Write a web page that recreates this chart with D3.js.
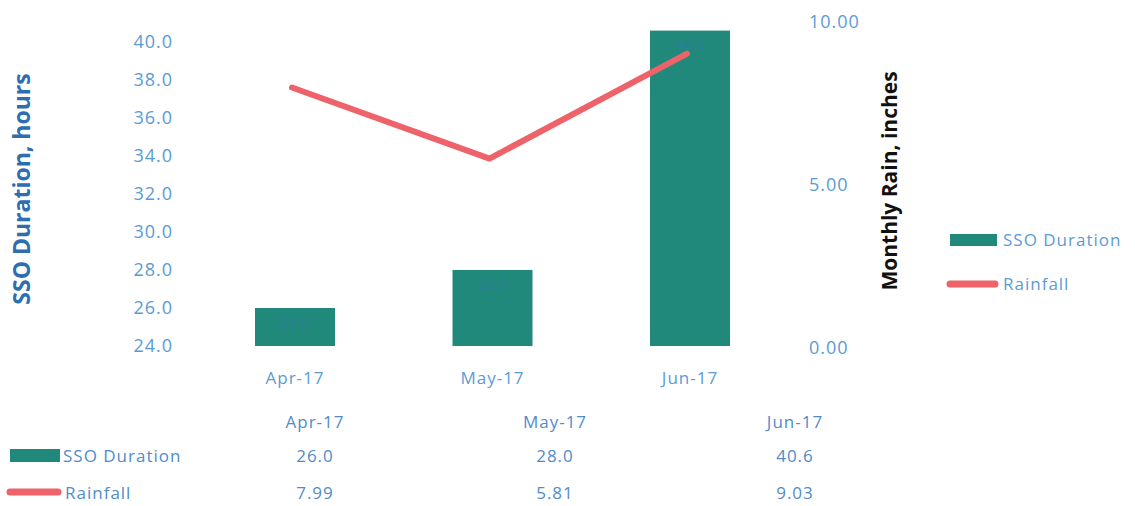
<!DOCTYPE html>
<html><head><meta charset="utf-8">
<script src="https://cdn.jsdelivr.net/npm/d3@7"></script>
<style>
html,body{margin:0;padding:0;background:#fff;}
svg{display:block;font-family:"Open Sans",sans-serif;}
</style></head>
<body>
<svg id="c" width="1135" height="506"></svg>
<script>
const categories = ["Apr-17", "May-17", "Jun-17"];
const ssoDuration = [26.0, 28.0, 40.6];
const rainfall = [7.99, 5.81, 9.03];
const leftTicks = [24, 26, 28, 30, 32, 34, 36, 38, 40];
const rightTicks = [0, 5, 10];
const seriesNames = ["SSO Duration", "Rainfall"];

const barColor = "#20897b";
const lineColor = "#ee626a";
const tickColor = "#5b9bd5";
const tableColor = "#4f8cca";

const svg = d3.select("#c");

const x = d3.scaleBand().domain(categories).range([195.75, 789.25])
  .paddingInner(0.595).paddingOuter(0.3);
const yL = d3.scaleLinear().domain([24, 40]).range([346, 42]);
const yR = d3.scaleLinear().domain([0, 10]).range([348, 22]);

// bars
svg.append("g").selectAll("rect").data(categories).join("rect")
  .attr("x", d => x(d)).attr("width", x.bandwidth())
  .attr("y", (d, i) => yL(ssoDuration[i]))
  .attr("height", (d, i) => yL(24) - yL(ssoDuration[i]))
  .attr("fill", barColor);

// faint data labels inside bars
svg.append("g").selectAll("text").data(categories).join("text")
  .attr("x", d => x(d) + x.bandwidth() / 2)
  .attr("y", (d, i) => yL(ssoDuration[i]) + 19)
  .attr("text-anchor", "middle")
  .attr("font-size", 15).attr("fill", "#3a78b5").attr("opacity", 0.45)
  .text((d, i) => ssoDuration[i].toFixed(1));

// line
const line = d3.line().x((d, i) => x(categories[i]) + x.bandwidth() / 2 - 3).y(d => yR(d));
svg.append("path").datum(rainfall).attr("d", line)
  .attr("fill", "none").attr("stroke", lineColor).attr("stroke-width", 6)
  .attr("stroke-linecap", "round").attr("stroke-linejoin", "round");

// left axis
const gL = svg.append("g").attr("transform", "translate(176,0)")
  .call(d3.axisLeft(yL).tickValues(leftTicks).tickFormat(d3.format(".1f")).tickSize(0).tickPadding(3));
gL.select(".domain").remove();
gL.selectAll("text").attr("fill", tickColor).attr("font-size", 18)
  .attr("font-family", "Open Sans").attr("letter-spacing", "1px");

// right axis
const gR = svg.append("g").attr("transform", "translate(806,0)")
  .call(d3.axisRight(yR).tickValues(rightTicks).tickFormat(d3.format(".2f")).tickSize(0).tickPadding(3));
gR.select(".domain").remove();
gR.selectAll("text").attr("fill", tickColor).attr("font-size", 18)
  .attr("font-family", "Open Sans").attr("letter-spacing", "1px");

// bottom axis
const gB = svg.append("g").attr("transform", "translate(0,369)")
  .call(d3.axisBottom(x).tickSize(0).tickPadding(3));
gB.select(".domain").remove();
gB.selectAll("text").attr("fill", tickColor).attr("font-size", 17)
  .attr("font-family", "Open Sans").attr("letter-spacing", "1px");

// axis titles
svg.append("text").attr("transform", "translate(30,189) rotate(-90)")
  .attr("text-anchor", "middle").attr("font-size", 23).attr("font-weight", "bold")
  .attr("fill", "#2e6db0").text("SSO Duration, hours");
svg.append("text").attr("transform", "translate(897,181) rotate(-90)")
  .attr("text-anchor", "middle").attr("font-size", 21).attr("font-weight", "bold")
  .attr("fill", "#111").text("Monthly Rain, inches");

// legend
const lg = svg.append("g");
lg.append("rect").attr("x", 950).attr("y", 234).attr("width", 47).attr("height", 12).attr("fill", barColor);
lg.append("text").attr("x", 1003).attr("y", 246).attr("font-size", 17).attr("letter-spacing", "1px")
  .attr("fill", tickColor).text(seriesNames[0]);
lg.append("line").attr("x1", 950).attr("x2", 995).attr("y1", 284).attr("y2", 284)
  .attr("stroke", lineColor).attr("stroke-width", 7).attr("stroke-linecap", "round");
lg.append("text").attr("x", 1003).attr("y", 290).attr("font-size", 17).attr("letter-spacing", "1px")
  .attr("fill", tickColor).text(seriesNames[1]);

// data table
const tx = d3.scalePoint().domain(categories).range([315, 795]);
const tb = svg.append("g").attr("font-size", 17).attr("fill", tableColor).attr("letter-spacing", "1px");
tb.selectAll("text.h").data(categories).join("text").attr("class", "h")
  .attr("x", d => tx(d)).attr("y", 428).attr("text-anchor", "middle").text(d => d);
tb.selectAll("text.r1").data(categories).join("text").attr("class", "r1")
  .attr("x", d => tx(d)).attr("y", 462).attr("text-anchor", "middle")
  .text((d, i) => ssoDuration[i].toFixed(1));
tb.selectAll("text.r2").data(categories).join("text").attr("class", "r2")
  .attr("x", d => tx(d)).attr("y", 499).attr("text-anchor", "middle")
  .text((d, i) => rainfall[i].toFixed(2));
tb.append("rect").attr("x", 10).attr("y", 449).attr("width", 50).attr("height", 13).attr("fill", barColor);
tb.append("text").attr("x", 63).attr("y", 462).text(seriesNames[0]);
tb.append("line").attr("x1", 10).attr("x2", 58).attr("y1", 492).attr("y2", 492)
  .attr("stroke", lineColor).attr("stroke-width", 7).attr("stroke-linecap", "round");
tb.append("text").attr("x", 65).attr("y", 499).text(seriesNames[1]);
</script>
</body></html>
